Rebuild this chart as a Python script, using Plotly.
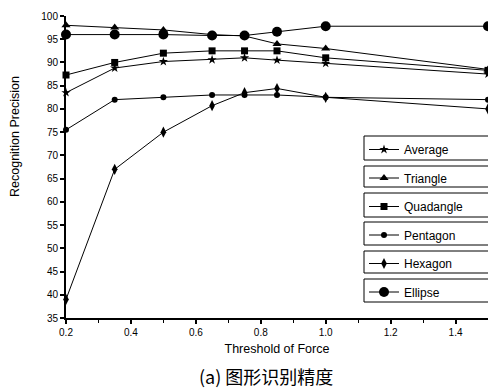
import plotly.graph_objects as go

x_vals = [0.2, 0.35, 0.5, 0.65, 0.75, 0.85, 1.0, 1.5]
average = [83.5, 88.8, 90.2, 90.6, 91.0, 90.5, 89.8, 87.5]
triangle = [98.0, 97.5, 97.0, 96.0, 95.7, 94.0, 93.0, 88.5]
quadangle = [87.3, 90.0, 92.0, 92.5, 92.5, 92.5, 91.0, 88.3]
pentagon = [75.5, 82.0, 82.5, 83.0, 83.0, 83.0, 82.5, 82.0]
hexagon = [39.0, 67.0, 75.0, 80.7, 83.5, 84.4, 82.5, 80.0]
ellipse = [96.0, 96.0, 96.0, 95.8, 95.8, 96.6, 97.8, 97.8]

names = ["Average", "Triangle", "Quadangle", "Pentagon", "Hexagon", "Ellipse"]
series = [average, triangle, quadangle, pentagon, hexagon, ellipse]
symbols = ["star", "triangle-up", "square", "circle", "diamond-tall", "circle"]
sizes = [7, 8, 7, 6, 8, 10]

xticks = [0.2, 0.4, 0.6, 0.8, 1.0, 1.2, 1.4]
xticklabels = ["0.2", "0.4", "0.6", "0.8", "1.0", "1.2", "1.4"]
yticks = list(range(35, 101, 5))

fig = go.Figure()
for i, (n, s) in enumerate(zip(names, series)):
    fig.add_trace(go.Scatter(
        x=x_vals, y=s, name=n, mode="lines+markers",
        line=dict(color="black", width=1),
        marker=dict(symbol=symbols[i], size=sizes[i], color="black"),
        legendgroup=n, cliponaxis=False,
    ))

W, H = 488, 392
L, R, T, B = 66, 0, 16, 74
pw, ph = W - L - R, H - T - B

def py2paper(py):
    return (H - B - py) / ph

def px2paper(px):
    return (px - L) / pw

boxes = [(136, 160), (166, 187), (193, 217), (222, 245), (251, 273), (279, 302)]
shapes = []
for (y0, y1) in boxes:
    shapes.append(dict(type="rect", xref="paper", yref="paper",
                       x0=px2paper(364), x1=px2paper(490),
                       y0=py2paper(y1), y1=py2paper(y0),
                       line=dict(color="black", width=1), fillcolor="white", layer="below"))

fig.update_layout(
    width=W, height=H,
    margin=dict(l=L, r=R, t=T, b=B),
    paper_bgcolor="white", plot_bgcolor="white",
    font=dict(family="Liberation Sans, Arial", color="black", size=10),
    showlegend=True,
    legend=dict(
        x=px2paper(364), y=py2paper(135), xanchor="left", yanchor="top",
        bgcolor="rgba(0,0,0,0)", borderwidth=0,
        font=dict(size=12, family="Liberation Sans, Arial", color="black"),
        tracegroupgap=9.5, itemwidth=30,
    ),
    shapes=shapes,
    xaxis=dict(
        range=[0.2, 1.5], tickvals=xticks, ticktext=xticklabels,
        showline=True, linecolor="black", linewidth=2,
        ticks="outside", ticklen=4, tickwidth=1.5, tickcolor="black",
        minor=dict(tickvals=[0.3, 0.5, 0.7, 0.9, 1.1, 1.3, 1.5], ticks="outside", ticklen=3, tickcolor="black", tickwidth=1),
        showgrid=False, zeroline=False,
        title=dict(text="Threshold of Force", font=dict(size=12.5), standoff=7),
        tickfont=dict(size=10),
    ),
    yaxis=dict(
        range=[35, 100], tickvals=yticks,
        showline=True, linecolor="black", linewidth=2,
        ticks="outside", ticklen=4, tickwidth=1.5, tickcolor="black",
        showgrid=False, zeroline=False,
        tickfont=dict(size=10),
    ),
    annotations=[
        dict(
            text="(a) 图形识别精度", xref="paper", yref="paper",
            x=px2paper(266), y=py2paper(376), xanchor="center", yanchor="middle",
            showarrow=False, font=dict(size=18, family="Noto Sans CJK SC", color="black"),
        ),
        dict(
            text="Recognition Precision", xref="paper", yref="paper", textangle=-90,
            x=px2paper(15), y=py2paper(137), xanchor="center", yanchor="middle",
            showarrow=False, font=dict(size=12.5, color="black"),
        ),
    ],
)

fig.write_html("out.html", config={"displayModeBar": False},
               post_script="document.body.style.margin='0';document.body.style.overflow='hidden';")
